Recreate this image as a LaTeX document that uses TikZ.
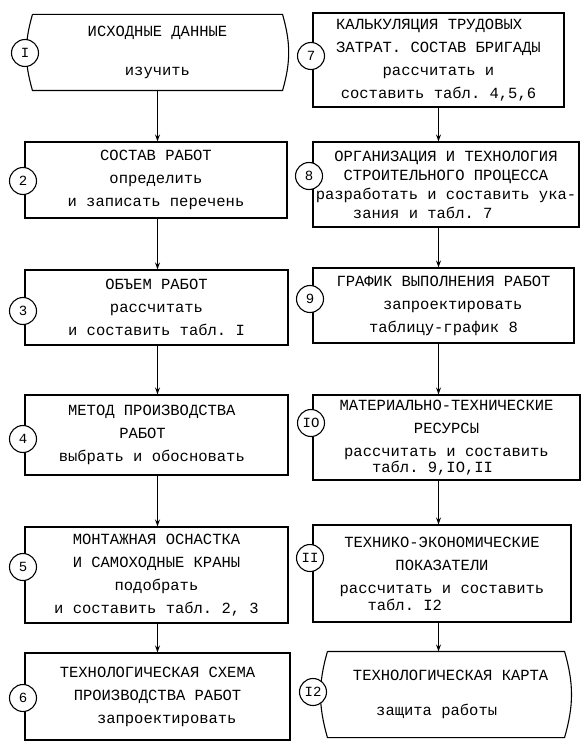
\documentclass[tikz,border=0pt]{standalone}
\usepackage{fontspec}
\setmonofont{Liberation Mono}
\usetikzlibrary{arrows.meta}

\tikzset{
  stage/.style={draw, line width=1.1pt, inner sep=2pt, align=center, font=\ttfamily\fontsize{15.5}{23}\selectfont},
  terminal/.style={stage, draw=none},
  number/.style={draw, circle, fill=white, line width=1.1pt, minimum size=27pt, inner sep=0pt, font=\ttfamily\fontsize{14}{14}\selectfont},
  flow/.style={-{Stealth[length=7pt,width=5pt]}, line width=1.1pt}
}

\begin{document}
\begin{tikzpicture}[x=1pt, y=-1pt]
\useasboundingbox (0,0) rectangle (582,743);
% left column
\node[terminal, minimum width=249pt, minimum height=75pt] (b1) at (157.5,52.5) {ИСХОДНЫЕ ДАННЫЕ\\[16pt]изучить};
\draw[line width=1.1pt] (b1.north west) -- (b1.north east) to[bend left=16] (b1.south east) -- (b1.south west) to[bend left=16] (b1.north west);
\node[stage, minimum width=262pt, minimum height=76pt] (b2) at (156,180) {СОСТАВ РАБОТ\\определить\\и записать перечень};
\node[stage, minimum width=263pt, minimum height=75pt] (b3) at (156.5,307.5) {ОБЪЕМ РАБОТ\\рассчитать\\и составить табл. I};
\node[stage, minimum width=263pt, minimum height=80pt] (b4) at (156.5,435) {МЕТОД ПРОИЗВОДСТВА\phantom{x}\\РАБОТ\phantom{xxx}\\выбрать и обосновать\phantom{x}};
\node[stage, minimum width=263pt, minimum height=96pt] (b5) at (156.5,575) {МОНТАЖНАЯ ОСНАСТКА\\И САМОХОДНЫЕ КРАНЫ\\подобрать\\и составить табл. 2, 3};
\node[stage, minimum width=265pt, minimum height=87pt] (b6) at (157.5,696.5) {ТЕХНОЛОГИЧЕСКАЯ СХЕМА\\ПРОИЗВОДСТВА РАБОТ\\\phantom{xx}запроектировать};
% right column
\node[stage, minimum width=251pt, minimum height=94pt] (b7) at (438.5,60) {КАЛЬКУЛЯЦИЯ ТРУДОВЫХ\phantom{xx}\\ЗАТРАТ. СОСТАВ БРИГАДЫ\\рассчитать и\\составить табл. 4,5,6};
\node[stage, minimum width=266pt, minimum height=85pt, font=\ttfamily\fontsize{15.5}{19}\selectfont] (b8) at (446,184.5) {ОРГАНИЗАЦИЯ И ТЕХНОЛОГИЯ\\СТРОИТЕЛЬНОГО ПРОЦЕССА\\разработать и составить ука-\\\phantom{xxxx}зания и табл. 7\phantom{xxxxxxxxx}};
\node[stage, minimum width=261pt, minimum height=75pt] (b9) at (443.5,305.5) {ГРАФИК ВЫПОЛНЕНИЯ РАБОТ\\\phantom{xx}запроектировать\\таблицу-график 8};
\node[stage, minimum width=267pt, minimum height=85pt] (b10) at (446.5,437.5) {МАТЕРИАЛЬНО-ТЕХНИЧЕСКИЕ\\РЕСУРСЫ\\рассчитать и составить\\[-7pt]\phantom{xxx}табл. 9,IO,II\phantom{xxxxxx}};
\node[stage, minimum width=258pt, minimum height=97pt] (b11) at (442,573.5) {ТЕХНИКО-ЭКОНОМИЧЕСКИЕ\\ПОКАЗАТЕЛИ\\рассчитать и составить\\[-6pt]\phantom{xxx}табл. I2\phantom{xxxxxxxxxxx}};
\node[terminal, minimum width=236pt, minimum height=85pt] (b12) at (446,694.5) {\phantom{x}ТЕХНОЛОГИЧЕСКАЯ КАРТА\\[12pt]защита работы\phantom{xx}};
\draw[line width=1.1pt] (b12.north west) -- (b12.north east) to[bend left=16] (b12.south east) -- (b12.south west) to[bend left=16] (b12.north west);
% numbers
\node[number] (c1) at (25,53) {I};
\node[number] (c2) at (23,181) {2};
\node[number] (c3) at (23,311) {3};
\node[number] (c4) at (23,439) {4};
\node[number] (c5) at (23,567) {5};
\node[number] (c6) at (23,698) {6};
\node[number] (c7) at (311,56) {7};
\node[number] (c8) at (309,176) {8};
\node[number] (c9) at (310,299) {9};
\node[number] (c10) at (311,423) {IO};
\node[number] (c11) at (310,558) {II};
\node[number] (c12) at (313,692) {I2};
% arrows
\draw[flow] (b1.south) -- (b1.south |- b2.north);
\draw[flow] (b2.south -| b1.south) -- (b3.north -| b1.south);
\draw[flow] (b3.south -| b1.south) -- (b4.north -| b1.south);
\draw[flow] (b4.south -| b1.south) -- (b5.north -| b1.south);
\draw[flow] (b5.south -| b1.south) -- (b6.north -| b1.south);
\draw[flow] (b7.south) -- (b7.south |- b8.north);
\draw[flow] (b8.south -| b7.south) -- (b9.north -| b7.south);
\draw[flow] (b9.south -| b7.south) -- (b10.north -| b7.south);
\draw[flow] (b10.south -| b7.south) -- (b11.north -| b7.south);
\draw[flow] (b11.south -| b7.south) -- (b12.north -| b7.south);
\end{tikzpicture}
\end{document}
